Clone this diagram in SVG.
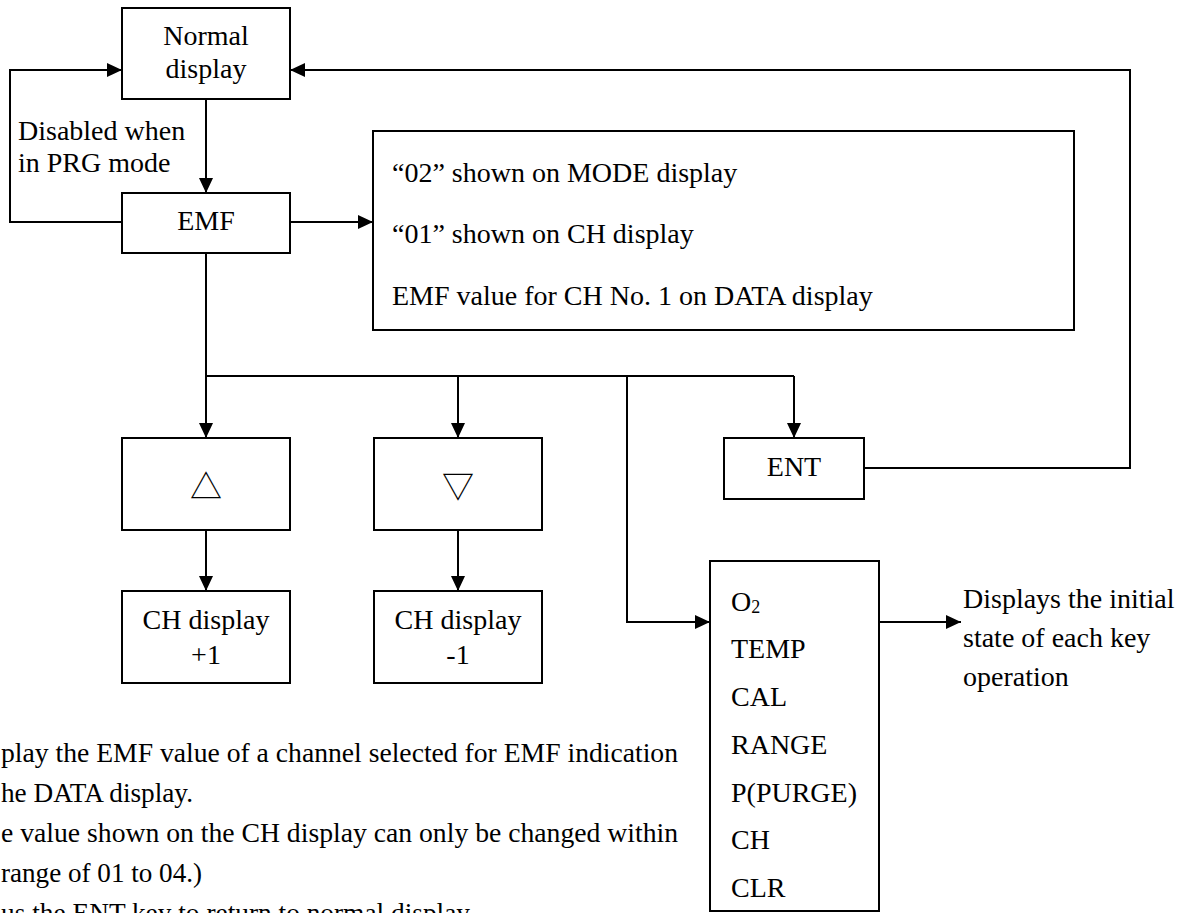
<svg xmlns="http://www.w3.org/2000/svg" width="1188" height="913" viewBox="0 0 1188 913">
<style>
.box{fill:#fff;stroke:#000;stroke-width:2}
.ln{fill:none;stroke:#000;stroke-width:2}
.arr{marker-end:url(#ah)}
text{font-family:"Liberation Serif","Times New Roman",serif;font-size:28px;fill:#000}
.c{text-anchor:middle}
.sym{font-family:"Noto Sans CJK JP","DejaVu Sans",sans-serif;font-size:32px}
</style>
<defs>
<marker id="ah" markerUnits="userSpaceOnUse" markerWidth="16" markerHeight="15" refX="15" refY="7" orient="auto">
<path d="M0,0 L15,7 L0,14 z" fill="#000"/>
</marker>
</defs>
<rect width="1188" height="913" fill="#fff"/>
<g id="connectors">
<path class="ln arr" d="M206,99 V193"/>
<path class="ln arr" d="M122,222 H10 V70 H122"/>
<path class="ln arr" d="M290,222 H373"/>
<path class="ln" d="M206,253 V376 H794"/>
<path class="ln arr" d="M206,376 V438"/>
<path class="ln arr" d="M458,376 V438"/>
<path class="ln arr" d="M794,376 V438"/>
<path class="ln arr" d="M627,376 V622 H710"/>
<path class="ln arr" d="M206,530 V591"/>
<path class="ln arr" d="M458,530 V591"/>
<path class="ln arr" d="M864,468 H1130 V70 H290"/>
<path class="ln arr" d="M879,622 H961"/>
</g>
<g id="normal">
<rect class="box" x="122" y="8" width="168" height="91"/>
<text class="c" x="206" y="45">Normal</text>
<text class="c" x="206" y="78">display</text>
</g>
<g id="disabled-note">
<text x="18" y="140">Disabled when</text>
<text x="18" y="172">in PRG mode</text>
</g>
<g id="emf">
<rect class="box" x="122" y="193" width="168" height="60"/>
<text class="c" x="206" y="230">EMF</text>
</g>
<g id="emf-info">
<rect class="box" x="373" y="131" width="701" height="199"/>
<text x="392" y="182">“02” shown on MODE display</text>
<text x="392" y="243">“01” shown on CH display</text>
<text x="392" y="305">EMF value for CH No. 1 on DATA display</text>
</g>
<g id="up-key">
<rect class="box" x="122" y="438" width="168" height="92"/>
<text class="c sym" x="206" y="498">△</text>
</g>
<g id="down-key">
<rect class="box" x="374" y="438" width="168" height="92"/>
<text class="c sym" x="458" y="498">▽</text>
</g>
<g id="ch-plus">
<rect class="box" x="122" y="591" width="168" height="92"/>
<text class="c" x="206" y="629">CH display</text>
<text class="c" x="206" y="664">+1</text>
</g>
<g id="ch-minus">
<rect class="box" x="374" y="591" width="168" height="92"/>
<text class="c" x="458" y="629">CH display</text>
<text class="c" x="458" y="664">-1</text>
</g>
<g id="ent">
<rect class="box" x="724" y="438" width="140" height="61"/>
<text class="c" x="794" y="476">ENT</text>
</g>
<g id="keys">
<rect class="box" x="710" y="561" width="169" height="350"/>
<text x="731" y="611">O<tspan font-size="18" dy="2">2</tspan></text>
<text x="731" y="658">TEMP</text>
<text x="731" y="706">CAL</text>
<text x="731" y="754">RANGE</text>
<text x="731" y="802">P(PURGE)</text>
<text x="731" y="849">CH</text>
<text x="731" y="897">CLR</text>
</g>
<g id="initial-note">
<text x="963" y="608">Displays the initial</text>
<text x="963" y="647">state of each key</text>
<text x="963" y="686">operation</text>
</g>
<g id="notes">
<text x="1" y="762" textLength="677" lengthAdjust="spacingAndGlyphs">play the EMF value of a channel selected for EMF indication</text>
<text x="1" y="802" textLength="192" lengthAdjust="spacingAndGlyphs">he DATA display.</text>
<text x="1" y="842" textLength="677" lengthAdjust="spacingAndGlyphs">e value shown on the CH display can only be changed within</text>
<text x="1" y="882" textLength="201" lengthAdjust="spacingAndGlyphs">range of 01 to 04.)</text>
<text x="1" y="922" textLength="469" lengthAdjust="spacingAndGlyphs">us the ENT key to return to normal display</text>
</g>
</svg>
